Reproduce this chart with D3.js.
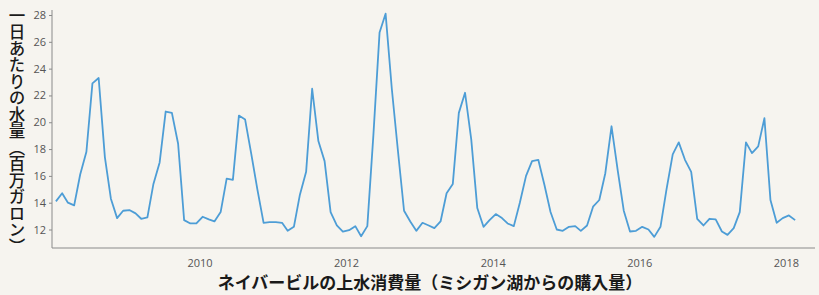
<!DOCTYPE html>
<html>
<head>
<meta charset="utf-8">
<script src="https://cdn.jsdelivr.net/npm/d3@7"></script>
<style>
  html, body { margin: 0; padding: 0; background: #f6f4ef; }
  svg { display: block; }
  .tick text { font-family: "Open Sans", "DejaVu Sans", sans-serif; font-size: 11px; fill: #555; }
  .jp { font-family: "Noto Sans CJK JP", sans-serif; fill: #1a1a1a; }
</style>
</head>
<body>
<div id="chart"></div>
<script>
// monthly average, Jan 2008 .. Feb 2018 (million gallons per day)
const startYear = 2008
const values = [
  14.1, 14.7, 14.0, 13.8, 16.1, 17.8, 22.9, 23.3, 17.4, 14.3, 12.85, 13.4,
  13.45, 13.2, 12.8, 12.9, 15.4, 17.0, 20.8, 20.7, 18.4, 12.7, 12.45, 12.45,
  12.95, 12.75, 12.6, 13.3, 15.8, 15.7, 20.5, 20.2, 17.6, 15.0, 12.5, 12.55,
  12.55, 12.5, 11.9, 12.2, 14.6, 16.3, 22.5, 18.6, 17.1, 13.3, 12.3, 11.85,
  11.95, 12.25, 11.5, 12.25, 19.0, 26.7, 28.1, 22.5, 17.8, 13.4, 12.6, 11.9,
  12.5, 12.3, 12.1, 12.6, 14.7, 15.4, 20.7, 22.2, 18.7, 13.6, 12.2, 12.7,
  13.15, 12.85, 12.45, 12.25, 14.0, 16.0, 17.1, 17.2, 15.3, 13.3, 12.0, 11.9,
  12.2, 12.25, 11.9, 12.3, 13.7, 14.2, 16.2, 19.7, 16.4, 13.4, 11.85, 11.9,
  12.2, 12.0, 11.45, 12.2, 15.0, 17.6, 18.5, 17.2, 16.3, 12.8, 12.3, 12.8,
  12.75, 11.85, 11.6, 12.1, 13.3, 18.5, 17.7, 18.2, 20.3, 14.2, 12.5, 12.85,
  13.05, 12.7
]
const yTicks = [12, 14, 16, 18, 20, 22, 24, 26, 28]
const xTickYears = [2010, 2012, 2014, 2016, 2018]
const yTitle = '一日あたりの水量（百万ガロン）'
const xTitle = 'ネイバービルの上水消費量（ミシガン湖からの購入量）'

const width = 819
const height = 295

const data = values.map((v, i) => ({date: new Date(startYear, i, 16), value: v}))

const svg = d3.select('#chart').append('svg')
  .attr('width', width)
  .attr('height', height)

const x = d3.scaleTime()
  .domain([new Date(2008, 0, 1), new Date(2018, 0, 1)])
  .range([52.9, 785.9])

const y = d3.scaleLinear()
  .domain([12, 28])
  .range([229.5, 15])

const axisColor = '#8a8a8a'

// y axis
const gy = svg.append('g')
  .attr('transform', 'translate(52,0)')
  .call(d3.axisLeft(y).tickValues(yTicks).tickSize(3).tickPadding(3))
gy.select('.domain').remove()
gy.selectAll('.tick line').attr('stroke', axisColor)

svg.append('line')
  .attr('x1', 52).attr('x2', 52)
  .attr('y1', 10).attr('y2', 248)
  .attr('stroke', axisColor)

// x axis
const gx = svg.append('g')
  .attr('transform', 'translate(0,248)')
  .call(d3.axisBottom(x)
    .tickValues(xTickYears.map(yr => new Date(yr, 0, 1)))
    .tickFormat(d3.timeFormat('%Y'))
    .tickSize(0)
    .tickPadding(11))
gx.select('.domain').remove()

svg.append('line')
  .attr('x1', 52).attr('x2', 815)
  .attr('y1', 248).attr('y2', 248)
  .attr('stroke', axisColor)

// line
const line = d3.line()
  .x(d => x(d.date))
  .y(d => y(d.value))

svg.append('path')
  .datum(data)
  .attr('fill', 'none')
  .attr('stroke', '#4d9dd6')
  .attr('stroke-width', 1.8)
  .attr('stroke-linejoin', 'round')
  .attr('d', line)

// titles
svg.append('text')
  .attr('class', 'jp')
  .attr('x', 430)
  .attr('y', 289)
  .attr('text-anchor', 'middle')
  .style('font-size', '17px')
  .style('font-weight', 'bold')
  .text(xTitle)

svg.append('text')
  .attr('class', 'jp')
  .attr('transform', 'translate(17,7)')
  .style('writing-mode', 'vertical-rl')
  .style('font-size', '16.5px')
  .style('font-weight', 500)
  .text(yTitle)
</script>
</body>
</html>
